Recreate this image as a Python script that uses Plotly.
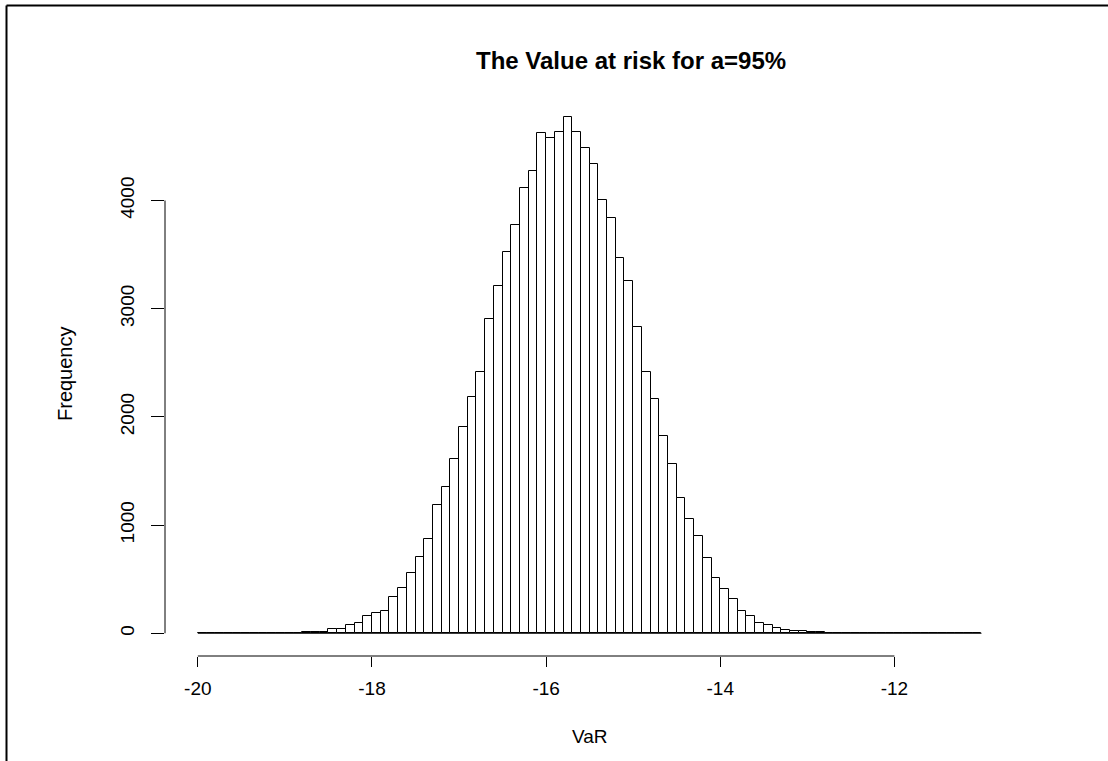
import plotly.graph_objects as go

# Histogram of simulated VaR, bins of width 0.1 from -20 to -11
bin_start = -20.0
bin_width = 0.1
counts = [
    0, 0, 0, 0, 0, 0, 0, 0, 0, 0,            # -20.0 .. -19.1
    0, 0, 8, 10, 10, 40, 42, 74, 95, 160,     # -19.0 .. -18.1
    188, 209, 339, 422, 557, 705, 874, 1182, 1348, 1607,   # -18.0 .. -17.1
    1905, 2188, 2413, 2909, 3207, 3521, 3777, 4112, 4272, 4623,  # -17.0 .. -16.1
    4577, 4633, 4771, 4633, 4485, 4337, 4001, 3841, 3472, 3260,  # -16.0 .. -15.1
    2835, 2413, 2170, 1822, 1562, 1254, 1054, 895, 692, 512,     # -15.0 .. -14.1
    406, 317, 203, 160, 95, 74, 52, 31, 22, 22,                  # -14.0 .. -13.1
    12, 12, 0, 0, 0, 0, 0, 0, 0, 0,          # -13.0 .. -12.1
    0, 0, 0, 0, 0, 0, 0, 0, 0, 0,            # -12.0 .. -11.1
]
x_ticks = [-20, -18, -16, -14, -12]
y_ticks = [0, 1000, 2000, 3000, 4000]
title_text = "The Value at risk for a=95%"
x_title = "VaR"
y_title = "Frequency"

n = len(counts)
edges = [round(bin_start + i * bin_width, 4) for i in range(n + 1)]
centers = [round(bin_start + (i + 0.5) * bin_width, 4) for i in range(n)]

FONT = "Liberation Sans, Arial, Helvetica, sans-serif"

fig = go.Figure()
# baseline of the (zero-height) bars, as R draws them
fig.add_trace(go.Scatter(x=[edges[0], edges[-1]], y=[0, 0], mode="lines",
                         line=dict(color="black", width=1), hoverinfo="skip",
                         showlegend=False))
fig.add_trace(go.Bar(x=centers, y=counts, width=bin_width,
                     marker=dict(color="white", line=dict(color="black", width=1)),
                     showlegend=False))

W, H = 1108, 761
ml, mr, mt, mb = 165, 95, 96, 105
pw, ph = W - ml - mr, H - mt - mb

def px(xpix):
    return (xpix - ml) / pw

def py(ypix):
    return (H - mb - ypix) / ph

fig.update_layout(
    width=W, height=H,
    margin=dict(l=ml, r=mr, t=mt, b=mb, pad=0),
    paper_bgcolor="white", plot_bgcolor="white",
    bargap=0,
    font=dict(family=FONT, color="black", size=19),
    xaxis=dict(range=[-20.377, -10.638], tickvals=x_ticks, ticktext=[str(v) for v in x_ticks],
               ticks="outside", ticklen=10, tickwidth=1, tickcolor="black",
               showgrid=False, zeroline=False, showline=False,
               tickfont=dict(size=19, family=FONT, color="black"), ticklabelstandoff=5),
    yaxis=dict(range=[-210, 4966], tickvals=y_ticks, ticktext=[str(v) for v in y_ticks],
               ticks="outside", ticklen=13, tickwidth=1, tickcolor="black",
               showgrid=False, zeroline=False, showline=False, tickangle=-90,
               tickfont=dict(size=19, family=FONT, color="black"), ticklabelstandoff=9),
    shapes=[
        # axis lines spanning the first to last tick, like R's axis()
        dict(type="line", xref="x", yref="paper", x0=x_ticks[0], x1=x_ticks[-1], y0=0, y1=0,
             line=dict(color="black", width=1)),
        dict(type="line", xref="paper", yref="y", x0=0, x1=0, y0=y_ticks[0], y1=y_ticks[-1],
             line=dict(color="black", width=1)),
        # outer frame lines
        dict(type="line", xref="paper", yref="paper", x0=px(6.5), x1=px(6.5), y0=py(5.5), y1=py(H),
             line=dict(color="black", width=2)),
        dict(type="line", xref="paper", yref="paper", x0=px(6.5), x1=px(W), y0=py(5.5), y1=py(5.5),
             line=dict(color="black", width=2)),
    ],
    annotations=[
        dict(text="<b>" + title_text + "</b>", xref="paper", yref="paper",
             x=px(630.5), y=py(60), xanchor="center", yanchor="middle", showarrow=False,
             font=dict(size=24, family=FONT, color="black")),
        dict(text=x_title, xref="paper", yref="paper", x=px(590), y=py(736),
             xanchor="center", yanchor="middle", showarrow=False,
             font=dict(size=19, family=FONT, color="black")),
        dict(text=y_title, xref="paper", yref="paper", x=px(65), y=py(374),
             xanchor="center", yanchor="middle", showarrow=False, textangle=-90,
             font=dict(size=20, family=FONT, color="black")),
    ],
)

fig.write_html("out.html")
